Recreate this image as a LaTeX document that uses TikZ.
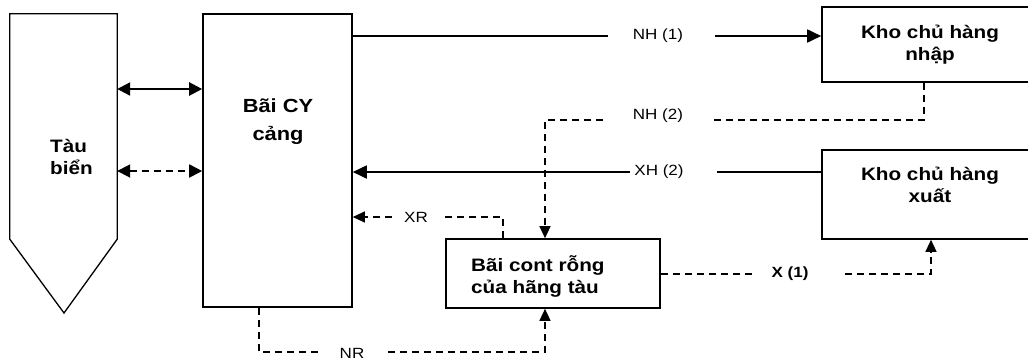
\documentclass[tikz,border=0pt]{standalone}
\usepackage{fontspec}
\setmainfont{Liberation Sans}[FakeStretch=1.15]
\usetikzlibrary{arrows.meta}
\begin{document}
\begin{tikzpicture}[x=1pt,y=-1pt,
  box/.style={draw, line width=1.6pt, inner sep=0pt},
  solidc/.style={line width=1.8pt},
  dashc/.style={line width=1.2pt, dash pattern=on 7pt off 5pt},
  tipS/.style={-{Triangle[length=14pt,width=13pt]}},
  tipD/.style={-{Triangle[length=12pt,width=11pt]}},
  dbl/.style={{Triangle[length=13pt,width=13pt]}-{Triangle[length=13pt,width=13pt]}},
  title/.style={font=\bfseries\fontsize{18}{22}\selectfont, inner sep=0pt},
  lbl/.style={font=\fontsize{14.8}{16}\selectfont, inner sep=0pt}]
\useasboundingbox (0,0) rectangle (1028,360);
% ship
\node (ship) [minimum width=107pt, minimum height=225pt, inner sep=0pt] at (63.5,126.5) {};
\coordinate (tip) at (64,313);
\draw[line width=1.3pt] (ship.north west) -- (ship.north east) -- (ship.south east) -- (tip) -- (ship.south west) -- cycle;
\node[title, anchor=base west, align=left] (shipt) at (50,174) {Tàu\\biển};
% boxes
\node[box, minimum width=149pt, minimum height=293pt] (cy) at (277.5,160.5) {};
\node[title, font=\bfseries\fontsize{19}{28}\selectfont, anchor=base, align=center] (cyt) at (278,140) {Bãi CY\\cảng};
\node[box, minimum width=216pt, minimum height=75pt] (nhap) at (930,44.5) {};
\node[title, anchor=base, align=center] (nhapt) at (930,60) {Kho chủ hàng\\nhập};
\node[box, minimum width=216pt, minimum height=89pt] (xuat) at (930,194.5) {};
\node[title, anchor=base, align=center] (xuatt) at (930,202) {Kho chủ hàng\\xuất};
\node[box, minimum width=214pt, minimum height=69pt] (cont) at (553,273.5) {};
\node[title, anchor=base west, align=left] (contt) at (471,293) {Bãi cont rỗng\\của hãng tàu};
% labels
\node[lbl] (nh1) at (658,36) {NH (1)};
\node[lbl] (nh2) at (658,116) {NH (2)};
\node[lbl] (xh2) at (659,172) {XH (2)};
\node[lbl] (xr) at (416,217) {XR};
\node[lbl, font=\bfseries\fontsize{14.8}{16}\selectfont] (x1) at (790,274) {X (1)};
\node[lbl] (nr) at (352,353) {NR};
% free ends
\coordinate (nh1a) at (608,36);
\coordinate (nh1b) at (715,36);
\coordinate (nh2a) at (924,120);
\coordinate (nh2b) at (710,120);
\coordinate (nh2c) at (603,120);
\coordinate (nh2d) at (545,120);
\coordinate (xh2a) at (717,172);
\coordinate (xh2b) at (630,172);
\coordinate (xra) at (503,217);
\coordinate (xrb) at (445,217);
\coordinate (xrc) at (392,217);
\coordinate (x1a) at (753,274);
\coordinate (x1b) at (845,274);
\coordinate (x1c) at (931,274);
\coordinate (nra) at (259,352);
\coordinate (nrb) at (318,352);
\coordinate (nrc) at (388,352);
\coordinate (nrd) at (545,352);
% ship <-> CY
\draw[solidc, line width=2.2pt, dbl] (ship.east |- 0,89) -- (cy.west |- 0,89);
\draw[dashc, line width=1.8pt, dbl] (ship.east |- 0,171) -- (cy.west |- 0,171);
% NH (1)
\draw[solidc] (cy.east |- nh1a) -- (nh1a);
\draw[solidc, tipS] (nh1b) -- (nhap.west |- nh1b);
% NH (2)
\draw[dashc] (nhap.south -| nh2a) -- (nh2a) -- (nh2b);
\draw[dashc, tipD] (nh2c) -- (nh2d) -- (cont.north -| nh2d);
% XH (2)
\draw[solidc] (xuat.west |- xh2a) -- (xh2a);
\draw[solidc, tipS] (xh2b) -- (cy.east |- xh2b);
% XR
\draw[dashc] (cont.north -| xra) -- (xra) -- (xrb);
\draw[dashc, tipD] (xrc) -- (cy.east |- xrc);
% X (1)
\draw[dashc] (cont.east |- x1a) -- (x1a);
\draw[dashc, tipD] (x1b) -- (x1c) -- (xuat.south -| x1c);
% NR
\draw[dashc] (cy.south -| nra) -- (nra) -- (nrb);
\draw[dashc, tipD] (nrc) -- (nrd) -- (cont.south -| nrd);
\end{tikzpicture}
\end{document}
